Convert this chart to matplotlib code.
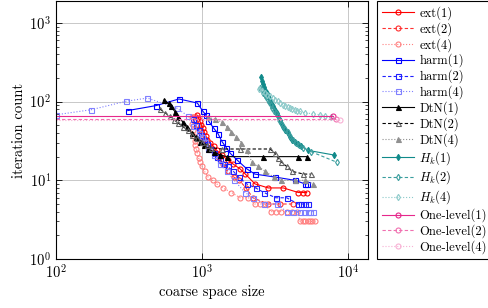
import matplotlib
matplotlib.use("Agg")
import matplotlib.pyplot as plt
from matplotlib.ticker import LogLocator, NullFormatter

plt.rcParams['font.family'] = ['cmr10', 'DejaVu Serif']
plt.rcParams['mathtext.fontset'] = 'cm'
plt.rcParams['axes.formatter.use_mathtext'] = True

# ---------------- data ----------------
ext1_x = [920, 945, 968, 988, 1010, 1035, 1060, 1090, 1135, 1200, 1262, 1370, 1500, 1640, 1820, 1980, 2307, 2846, 3606, 4570, 4945, 5210]
ext1_y = [68, 62, 56, 51, 46, 41, 37, 33, 30, 27, 24, 21, 18, 16, 14, 12, 9, 8, 8, 7, 7, 7]

ext2_x = [870, 900, 930, 960, 990, 1020, 1060, 1100, 1150, 1220, 1300, 1400, 1500, 1650, 1800, 2000, 2230, 2840, 3400, 4200]
ext2_y = [64, 57, 51, 45, 40, 36, 32, 28, 25, 22, 19, 16, 13, 11, 10, 8, 6, 5, 5, 5]

ext4_x = [850, 860, 870, 880, 890, 900, 915, 930, 950, 975, 1000, 1040, 1100, 1180, 1260, 1390, 1590, 1820, 2080, 2300, 2500, 2700,
          2950, 3200, 3500, 3800, 4150, 4500, 4700, 4900, 5100, 5300, 5500, 5700, 5900]
ext4_y = [63, 52, 44, 37, 32, 28, 25, 22, 19, 17, 15, 13, 11, 10, 9, 8, 7, 6, 6, 5, 5, 5,
          4, 4, 4, 4, 4, 4, 3, 3, 3, 3, 3, 3, 3]

harm1_x = [310, 484, 695, 929, 1011, 1060, 1105, 1202, 1288, 1371, 1466, 1562, 1745, 2024, 2300, 3160, 4330, 5070, 5200]
harm1_y = [77, 89, 108, 96, 76, 68, 57, 46, 39, 31, 26, 22, 18, 14, 12, 11, 10, 9, 9]

harm2_x = [870, 910, 950, 990, 1030, 1080, 1140, 1200, 1270, 1330, 1420, 1500, 1640, 1780, 2020, 2330, 2650, 3200, 3800, 4550, 4800, 5050, 5300]
harm2_y = [60, 50, 43, 38, 33, 29, 25, 22, 20, 18, 16, 15, 13, 11, 9, 8, 7, 6, 6, 5, 5, 5, 5]

harm4_x = [100, 175, 301, 422, 670, 807, 872, 953, 995, 1049, 1105, 1200, 1330, 1480, 1660, 1970, 2240, 2650, 3250, 3800, 4220, 4690, 5000, 5300, 5500, 5780]
harm4_y = [68, 79, 101, 111, 83, 65, 49, 40, 36, 31, 25, 21, 16, 13, 10, 7, 6, 5, 5, 4, 4, 4, 4, 4, 4, 4]

dtn1_x = [545, 590, 610, 655, 690, 740, 785, 850, 905, 970, 1030, 1100, 1200, 1330, 1480, 2620, 4550, 5200]
dtn1_y = [104, 95, 87, 74, 64, 55, 47, 40, 35, 31, 28, 25, 23, 21, 20, 20, 20, 20]

dtn2_x = [516, 560, 600, 640, 690, 740, 800, 860, 930, 1000, 1080, 1150, 1372, 1820, 2920, 3160, 3330, 3500, 3800, 4150, 4950, 5550]
dtn2_y = [80, 72, 65, 59, 53, 48, 43, 38, 34, 31, 28, 26, 25, 25, 25, 22, 19, 17, 15, 13, 12, 12]

dtn4_x = [1100, 1230, 1370, 1480, 1590, 1720, 1860, 2020, 2200, 2430, 2700, 3100, 3500, 4300, 5100, 5750]
dtn4_y = [63, 60, 55, 48, 41, 36, 30, 24, 17, 15, 13, 11, 10, 10, 10, 9]

hk1_x = [2535, 2580, 2620, 2660, 2700, 2770, 2840, 2910, 2990, 3070, 3160, 3240, 3330, 3410, 3500, 3600, 3700, 3850, 4000, 4160, 4330, 4560, 4800, 5330, 7970]
hk1_y = [207, 185, 166, 152, 142, 128, 117, 106, 96, 87, 79, 72, 65, 59, 53, 48, 44, 40, 36, 33, 31, 29, 27, 24, 21]

hk2_x = [2500, 2560, 2620, 2680, 2740, 2810, 2880, 2950, 3030, 3110, 3200, 3290, 3380, 3480, 3580, 3700, 3850, 4000, 4200, 4400, 4650, 4950, 5620, 8360]
hk2_y = [150, 140, 130, 122, 114, 106, 98, 91, 84, 77, 71, 65, 59, 54, 49, 45, 41, 37, 33, 30, 28, 26, 23, 17]

hk4_x = [2470, 2580, 2700, 2800, 2920, 3040, 3160, 3290, 3420, 3560, 3700, 3850, 4000, 4160, 4330, 4500, 4690, 5070, 5800, 6430, 7000, 7700]
hk4_y = [145, 136, 129, 123, 117, 111, 106, 101, 96, 91, 87, 85, 83, 81, 79, 77, 75, 72, 70, 68, 65, 63]

one1_x = [100, 7890]
one1_y = [65, 65]
one2_x = [100, 8280]
one2_y = [60, 60]
one4_x = [100, 8810]
one4_y = [58, 58]

# ---------------- plot ----------------
fig = plt.figure(figsize=(4.89, 3.08), dpi=100)
ax = fig.add_axes([56/489, 1-259/308, (368-56)/489, (259-1)/308])

ms = 3.6
lw = 0.8
def plot(x, y, color, ls, marker, label, mfc='none', mec=None, markevery=None, ms=ms):
    ax.plot(x, y, color=color, ls=ls, lw=lw, marker=marker, ms=ms, mfc=mfc,
            mec=mec if mec else color, mew=0.8, label=label, markevery=markevery)

red1, red2, red4 = '#ff0000', '#ff3030', '#ff8080'
blue1, blue2, blue4 = '#0000ff', '#2020ff', '#8080ff'
blk1, blk2, blk4 = '#000000', '#000000', '#909090'
teal1, teal2, teal4 = '#108a8a', '#3a9e9e', '#8ccaca'
mag1, mag2, mag4 = '#e6288c', '#f070b0', '#f8b0d4'

plot(ext1_x, ext1_y, red1, '-', 'o', 'ext(1)')
plot(ext2_x, ext2_y, red2, (0, (3, 2)), 'o', 'ext(2)')
plot(ext4_x, ext4_y, red4, ':', 'o', 'ext(4)')
plot(harm1_x, harm1_y, blue1, '-', 's', 'harm(1)')
plot(harm2_x, harm2_y, blue2, (0, (3, 2)), 's', 'harm(2)')
plot(harm4_x, harm4_y, blue4, ':', 's', 'harm(4)')
plot(dtn1_x, dtn1_y, blk1, '-', '^', 'DtN(1)', mfc=blk1)
plot(dtn2_x, dtn2_y, blk2, (0, (3, 2)), '^', 'DtN(2)', mfc='none', mec='#606060')
plot(dtn4_x, dtn4_y, blk4, ':', '^', 'DtN(4)', mfc=blk4)
plot(hk1_x, hk1_y, teal1, '-', 'd', r'$H_k$(1)', mfc=teal1, ms=3.2)
plot(hk2_x, hk2_y, teal2, (0, (3, 2)), 'd', r'$H_k$(2)', ms=3.2)
plot(hk4_x, hk4_y, teal4, ':', 'd', r'$H_k$(4)', ms=3.2)
plot(one1_x, one1_y, mag1, '-', 'o', 'One-level(1)', markevery=[1])
plot(one2_x, one2_y, mag2, (0, (3, 2)), 'o', 'One-level(2)', markevery=[1])
plot(one4_x, one4_y, mag4, ':', 'o', 'One-level(4)', markevery=[1])

ax.set_xscale('log')
ax.set_yscale('log')
ax.set_xlim(100, 13700)
ax.set_ylim(1, 1900)
ax.yaxis.set_minor_locator(LogLocator(base=10, subs=range(2, 10)))
ax.yaxis.set_minor_formatter(NullFormatter())
ax.xaxis.set_minor_locator(LogLocator(base=10, subs=range(2, 10)))
ax.xaxis.set_minor_formatter(NullFormatter())
ax.grid(True, which='major', color='#c8c8c8', lw=0.7)
ax.set_axisbelow(True)
ax.tick_params(which='both', direction='in', top=True, right=True, labelsize=10.5)
ax.tick_params(which='major', length=4, width=0.6)
ax.tick_params(which='minor', length=2.2, width=0.5)
ax.tick_params(axis='x', which='minor', length=0)
for s in ax.spines.values():
    s.set_linewidth(0.8)

ax.set_xlabel('coarse space size', fontsize=10.5, labelpad=2)
ax.set_ylabel('iteration count', fontsize=10.5, labelpad=2)

leg = fig.legend(loc='upper left', bbox_to_anchor=(377/489, 1-1/308), fontsize=9,
                 frameon=True, fancybox=False, edgecolor='black', framealpha=1,
                 handlelength=2.6, labelspacing=0.17, borderpad=0.4, handletextpad=0.4,
                 borderaxespad=0)
leg.get_frame().set_linewidth(0.8)

fig.savefig('out.png', dpi=100)
